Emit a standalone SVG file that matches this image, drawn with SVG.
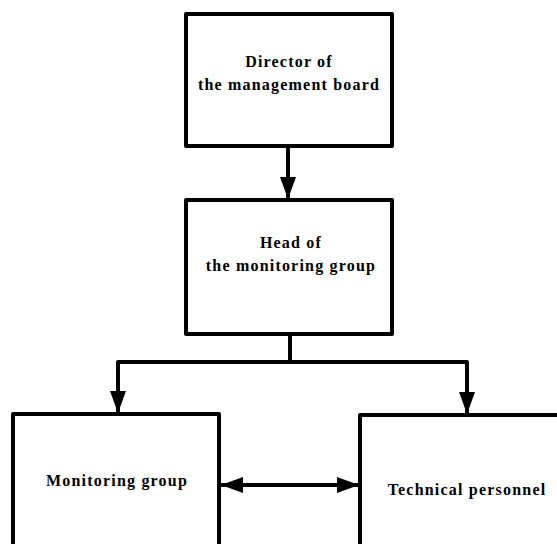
<svg xmlns="http://www.w3.org/2000/svg" width="557" height="544" viewBox="0 0 557 544">
<style>
.box{fill:#fff;stroke:#000;stroke-width:4;stroke-linejoin:round}
.ln{fill:none;stroke:#000;stroke-width:4;stroke-linejoin:round}
.t{font-family:"Liberation Serif","Times New Roman",serif;font-weight:bold;font-size:16px;fill:#000;text-anchor:middle;letter-spacing:1.2px}
</style>
<defs>
<marker id="ah" markerUnits="userSpaceOnUse" markerWidth="22" markerHeight="16" refX="22" refY="8" orient="auto">
<path d="M0,0 L22,8 L0,16 Z" fill="#000"/>
</marker>
</defs>
<rect width="557" height="544" fill="#fff"/>
<g id="connectors">
<line class="ln" x1="288" y1="146" x2="288" y2="199" marker-end="url(#ah)"/>
<line class="ln" x1="290" y1="334" x2="290" y2="362"/>
<path class="ln" d="M290,362 H118 V413" marker-end="url(#ah)"/>
<path class="ln" d="M290,362 H467 V414" marker-end="url(#ah)"/>
<line class="ln" x1="240" y1="485" x2="221" y2="485" marker-end="url(#ah)"/>
<line class="ln" x1="230" y1="485" x2="359" y2="485" marker-end="url(#ah)"/>
</g>
<g id="director">
<rect class="box" x="186" y="14" width="206" height="132"/>
<text class="t" x="289" y="67">Director of</text>
<text class="t" x="289" y="90">the management board</text>
</g>
<g id="head">
<rect class="box" x="186" y="200" width="206" height="134"/>
<text class="t" x="291" y="248">Head of</text>
<text class="t" x="291" y="271">the monitoring group</text>
</g>
<g id="monitoring">
<rect class="box" x="13" y="414" width="206" height="150"/>
<text class="t" x="117" y="486">Monitoring group</text>
</g>
<g id="technical">
<rect class="box" x="360" y="415" width="220" height="150"/>
<text class="t" x="467" y="495">Technical personnel</text>
</g>
</svg>
